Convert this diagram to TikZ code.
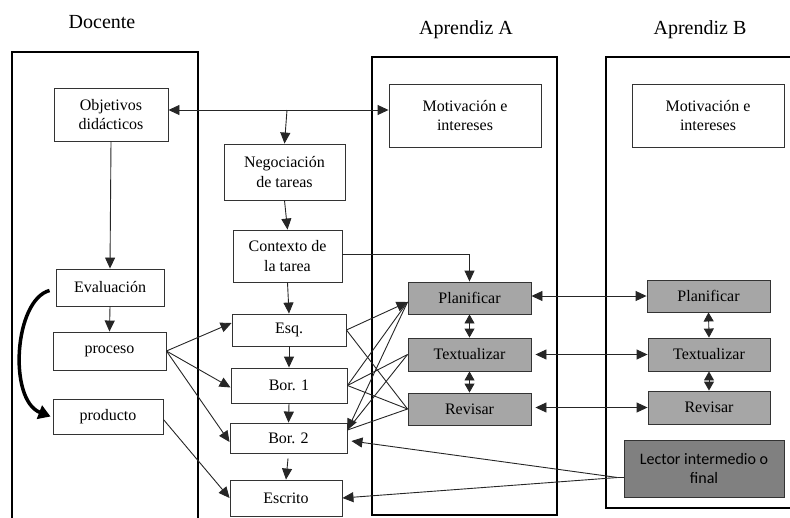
\documentclass[tikz,border=0pt]{standalone}
\usepackage{fontspec}
\setmainfont{Liberation Serif}
\newfontfamily\lectorfont{Carlito}
\usetikzlibrary{arrows.meta,calc}
\begin{document}
\begin{tikzpicture}[x=1pt,y=-1pt,
  frame/.style={draw=black,line width=2pt},
  box/.style={draw=black!80,line width=0.9pt,fill=white,inner sep=0pt,align=center,
    font=\rmfamily\fontsize{16pt}{19.2pt}\selectfont},
  proc/.style={box,fill=black!35},
  reader/.style={box,fill=black!50,font=\lectorfont\fontsize{16pt}{19.2pt}\selectfont},
  title/.style={anchor=base,inner sep=0pt,font=\rmfamily\fontsize{20pt}{24pt}\selectfont},
  conn/.style={draw=black!85,line width=0.9pt},
  arr/.style={conn,-{Triangle[length=11pt,width=10pt]}},
  darr/.style={conn,{Triangle[length=11pt,width=10pt]}-{Triangle[length=11pt,width=10pt]}},
  sdarr/.style={conn,{Triangle[length=9pt,width=10pt]}-{Triangle[length=9pt,width=10pt]}},
  bigarr/.style={draw=black,line width=3.5pt,-{Triangle[length=12pt,width=14pt]}}]
\useasboundingbox (0,0) rectangle (790,517);
\clip (0,0) rectangle (790,517);

% column titles
\node[title] (tdoc) at (102,28) {Docente};
\node[title] (ta) at (466,34) {Aprendiz A};
\node[title] (tb) at (700,34) {Aprendiz B};

% column frames
\draw[frame] (12,530) -- (12,52) -- (198,52) -- (198,530);
\draw[frame] (372,57) rectangle (557,515);
\draw[frame] (606,57) rectangle (810,508);

% teacher column
\node[box,minimum width=114,minimum height=53] (obj) at (111,114.5) {Objetivos\\didácticos};
\node[box,minimum width=108,minimum height=37] (eval) at (110,287.5) {Evaluación};
\node[box,minimum width=113,minimum height=38] (proc) at (109.5,351) {proceso};
\node[box,minimum width=110,minimum height=35] (prod) at (108,416.5) {producto};

% task column
\node[box,minimum width=121,minimum height=56] (neg) at (284.5,172) {Negociación\\de tareas};
\node[box,minimum width=109,minimum height=52] (ctx) at (287.5,256) {Contexto de\\la tarea};
\node[box,minimum width=114,minimum height=32] (esq) at (289,330) {Esq.};
\node[box,minimum width=116,minimum height=35] (bor1) at (289,385.5) {Bor. 1};
\node[box,minimum width=117,minimum height=30] (bor2) at (288.5,438) {Bor. 2};
\node[box,minimum width=112,minimum height=36] (escr) at (286,498) {Escrito};

% learner A
\node[box,minimum width=152,minimum height=63] (motA) at (465,115.5) {Motivación e\\intereses};
\node[proc,minimum width=123,minimum height=32] (planA) at (469.5,298) {Planificar};
\node[proc,minimum width=123,minimum height=33] (textA) at (469.5,354.5) {Textualizar};
\node[proc,minimum width=123,minimum height=32] (revA) at (469.5,409) {Revisar};

% learner B
\node[box,minimum width=152,minimum height=63] (motB) at (708,115.5) {Motivación e\\intereses};
\node[proc,minimum width=123,minimum height=32] (planB) at (708.5,296) {Planificar};
\node[proc,minimum width=122,minimum height=33] (textB) at (709,354.5) {Textualizar};
\node[proc,minimum width=122,minimum height=33] (revB) at (709,407.5) {Revisar};
\node[reader,minimum width=160,minimum height=57] (lector) at (704,468.5) {Lector intermedio o\\final};

% top link between objectives, motivation and negotiation
\coordinate (hl) at (287,110);
\draw[darr] (obj.east |- hl) -- (motA.west |- hl);
\draw[arr] (hl) -- (neg.north);

% vertical flows
\draw[arr] (obj.south) -- (eval.north);
\draw[arr] (eval.south) -- (proc.north);
\draw[arr] (neg.south) -- (ctx.north);
\draw[arr] (ctx.south) -- (esq.north);
\draw[arr] (esq.south) -- (bor1.north);
\draw[arr] (bor1.south) -- (bor2.north);
\draw[arr,shorten <=5pt] (bor2.south) -- (escr.north);

% context to planning
\draw[arr] ($(ctx.east)+(0,-2)$) -| (planA.north);

% evaluation of process and product
\draw[bigarr] ($(eval.west)+(-6,3)$) .. controls (14,300) and (8,400) .. ($(prod.west)+(-2,0)$);
\draw[arr] (proc.east) -- ($(esq.west)+(0,-7)$);
\draw[arr] (proc.east) -- ($(bor1.west)+(0,2)$);
\draw[arr] (proc.east) -- ($(bor2.west)+(0,4)$);
\draw[arr] ($(prod.east)+(0,3)$) -- (escr.west);

% drafts and writing processes
\coordinate (pA) at ($(planA.west)+(0,4)$);
\coordinate (b2) at ($(bor2.east)+(0,-8)$);
\draw[arr] (esq.east) -- (pA);
\draw[conn] (esq.east) -- (revA.west);
\draw[conn] (bor1.east) -- (pA);
\draw[conn] (bor1.east) -- (textA.west);
\draw[conn] (bor1.east) -- (revA.west);
\draw[arr] (pA) -- (b2);
\draw[conn] (textA.west) -- (b2);
\draw[conn] (revA.west) -- (b2);

% reader feedback
\coordinate (lr) at ($(lector.west)+(-6,9)$);
\draw[conn] (lector.west |- lr) -- (lr);
\draw[arr] (lr) -- ($(bor2.east)+(4,3)$);
\draw[arr] (lr) -- (escr.east);

% process cycles inside each learner
\draw[sdarr] (planA.south) -- (textA.north);
\draw[sdarr] (textA.south) -- (revA.north);
\draw[sdarr] (planB.south) -- (textB.north);
\draw[sdarr] (textB.south) -- (revB.north);

% exchange between learners
\draw[darr] (planA.east |- planB) -- (planB.west);
\draw[darr,shorten <=4pt] (textA.east) -- (textB.west);
\draw[darr,shorten <=4pt] (revA.east |- revB) -- (revB.west);
\end{tikzpicture}
\end{document}
